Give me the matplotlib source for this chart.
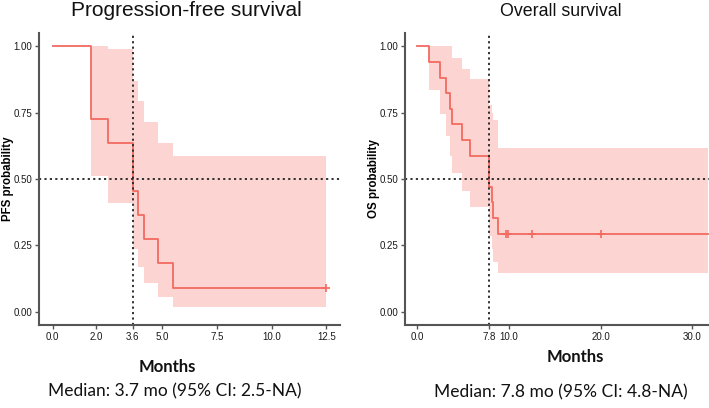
import matplotlib
matplotlib.use("Agg")
import matplotlib.pyplot as plt
import numpy as np

# ---------------- data ----------------
pfs_times = [0, 1.77, 2.52, 3.65, 3.9, 4.15, 4.8, 5.5]
pfs_surv = [1.0, 0.727, 0.636, 0.455, 0.364, 0.273, 0.182, 0.091]
pfs_upper = [1.0, 1.0, 0.99, 0.868, 0.793, 0.714, 0.634, 0.587]
pfs_lower = [1.0, 0.511, 0.409, 0.238, 0.169, 0.107, 0.056, 0.0165]
pfs_end = 12.5
pfs_censor = [12.5]
pfs_median = 3.65
pfs_xticks = [0, 2, 3.65, 5, 7.5, 10, 12.5]
pfs_xticklabels = ["0.0", "2.0", "3.6", "5.0", "7.5", "10.0", "12.5"]

os_times = [0, 1.33, 2.5, 3.12, 3.6, 3.75, 4.84, 5.75, 7.8, 8.1, 8.3, 8.75]
os_surv = [1.0, 0.941, 0.882, 0.824, 0.765, 0.706, 0.647, 0.588, 0.471, 0.412, 0.353, 0.294]
os_upper = [1.0, 1.0, 1.0, 1.0, 1.0, 0.956, 0.916, 0.875, 0.78, 0.75, 0.724, 0.615]
os_lower = [1.0, 0.835, 0.743, 0.662, 0.586, 0.521, 0.455, 0.396, 0.286, 0.236, 0.189, 0.145]
os_end = 31.7
os_censor = [9.64, 9.93, 12.47, 20.0]
os_median = 7.8
os_xticks = [0, 7.8, 10, 20, 30]
os_xticklabels = ["0.0", "7.8", "10.0", "20.0", "30.0"]

yticks = [0, 0.25, 0.5, 0.75, 1.0]
yticklabels = ["0.00", "0.25", "0.50", "0.75", "1.00"]

LINE = "#F26A60"
FILL = "#F8766D"

W, H = 709, 408
fig = plt.figure(figsize=(W / 100, H / 100), dpi=100)


def px_ax(x0, y0, x1, y1):
    return fig.add_axes([x0 / W, 1 - y1 / H, (x1 - x0) / W, (y1 - y0) / H])


def km_panel(ax, times, surv, upper, lower, end, censor, median, xticks, xticklabels, xlim,
             ylabel, ylabel_x):
    t = list(times) + [end]
    s = list(surv) + [surv[-1]]
    u = list(upper) + [upper[-1]]
    lo = list(lower) + [lower[-1]]
    ax.fill_between(t, lo, u, step="post", color=FILL, alpha=0.3, linewidth=0)
    ax.step(t, s, where="post", color=LINE, linewidth=1.3)
    cy = [surv[-1]] * len(censor)
    ax.plot(censor, cy, linestyle="none", marker="+", color=LINE, markersize=6, markeredgewidth=1.2)
    ax.axhline(0.5, color="#222222", linestyle=(0, (1.2, 1.8)), linewidth=1.3)
    ax.axvline(median, color="#222222", linestyle=(0, (1.2, 1.8)), linewidth=1.3)
    ax.set_xlim(*xlim)
    ax.set_ylim(-0.05, 1.05)
    ax.set_xticks(xticks)
    ax.set_xticklabels(xticklabels)
    ax.set_yticks(yticks)
    ax.set_yticklabels(yticklabels)
    for sp in ["top", "right"]:
        ax.spines[sp].set_visible(False)
    for sp in ["left", "bottom"]:
        ax.spines[sp].set_color("#555555")
        ax.spines[sp].set_linewidth(1.5)
    ax.tick_params(axis="both", length=3, width=1, color="#555555", labelsize=7,
                   labelcolor="#1a1a1a", pad=2)
    for lab in ax.get_xticklabels() + ax.get_yticklabels():
        lab.set_fontfamily("Liberation Sans")
    ax.set_ylabel(ylabel, fontsize=8.3, fontweight="bold", family="Liberation Sans",
                  va="center", ha="center")
    ax.yaxis.set_label_coords(ylabel_x, 0.5)


ax1 = px_ax(39, 33, 340, 325)
km_panel(ax1, pfs_times, pfs_surv, pfs_upper, pfs_lower, pfs_end, pfs_censor, pfs_median,
         pfs_xticks, pfs_xticklabels, (-0.625, 13.125), "PFS probability", (8 - 39) / 301)

ax2 = px_ax(405, 33, 709, 325)
km_panel(ax2, os_times, os_surv, os_upper, os_lower, os_end, os_censor, os_median,
         os_xticks, os_xticklabels, (-1.34, 31.8), "OS probability", (374 - 405) / 304)


def ftext(x, y, s, **kw):
    fig.text(x / W, 1 - y / H, s, ha="center", va="center", **kw)


ftext(186, 11, "Progression-free survival", fontsize=15, family="Liberation Sans", color="#111111")
ftext(561, 12, "Overall survival", fontsize=12.8, family="Liberation Sans", color="#111111")

ftext(167, 367, "Months", fontsize=12, fontweight="bold", family="Lato", color="#111111")
ftext(575, 357, "Months", fontsize=12, fontweight="bold", family="Lato", color="#111111")

ftext(175, 391, "Median: 3.7 mo (95% CI: 2.5-NA)", fontsize=12.5, family="Lato", color="#111111")
ftext(561, 392, "Median: 7.8 mo (95% CI: 4.8-NA)", fontsize=12.5, family="Lato", color="#111111")

fig.savefig("out.png", dpi=100)
